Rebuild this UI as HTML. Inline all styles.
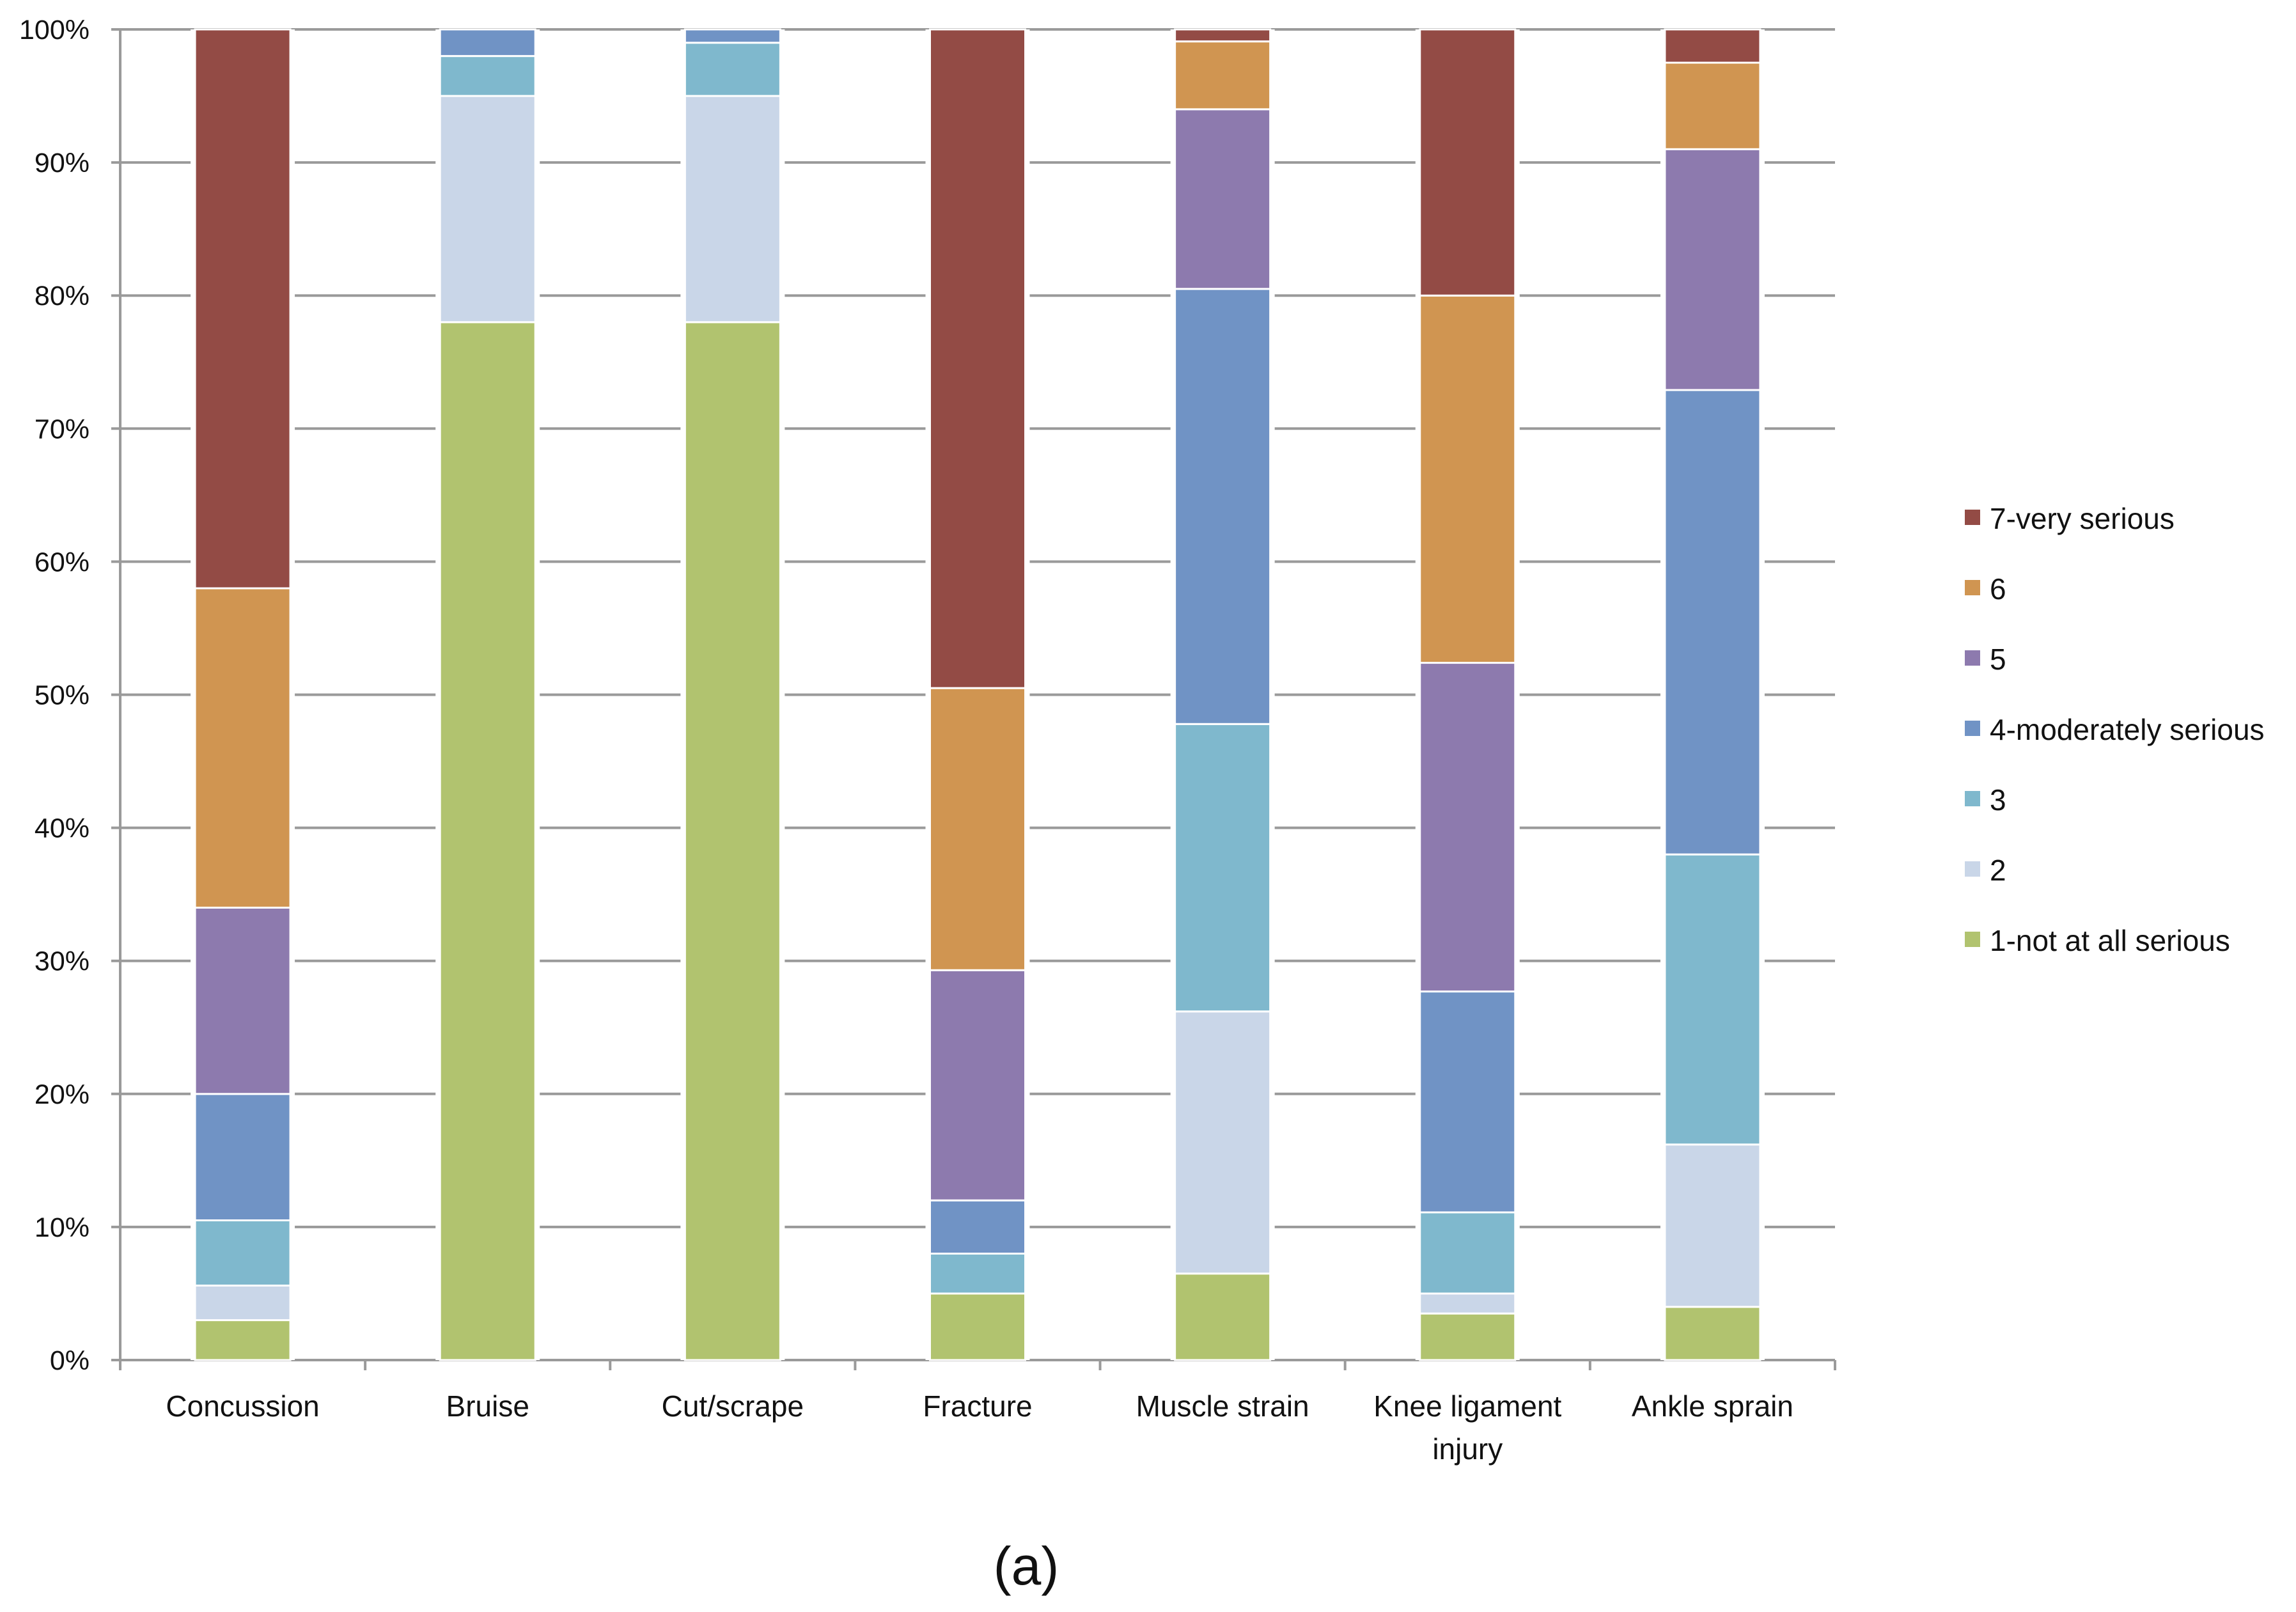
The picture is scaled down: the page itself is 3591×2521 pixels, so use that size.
<!DOCTYPE html>
<html><head><meta charset="utf-8"><style>
html,body{margin:0;padding:0;background:#fff;}
svg{display:block;font-family:"Liberation Sans","DejaVu Sans",sans-serif;}
</style></head><body>
<svg id="chart" width="3591" height="2521" viewBox="0 0 3591 2521" xmlns="http://www.w3.org/2000/svg"></svg>
<script>
const categories = [["Concussion"],["Bruise"],["Cut/scrape"],["Fracture"],["Muscle strain"],["Knee ligament","injury"],["Ankle sprain"]];
const seriesNames = ["1-not at all serious","2","3","4-moderately serious","5","6","7-very serious"];
const s1 = [3, 78, 78, 5, 6.5, 3.5, 4];
const s2 = [2.6, 17, 17, 0, 19.7, 1.5, 12.2];
const s3 = [4.9, 3, 4, 3, 21.6, 6.1, 21.8];
const s4 = [9.5, 2, 1, 4, 32.7, 16.6, 34.9];
const s5 = [14, 0, 0, 17.3, 13.5, 24.7, 18.1];
const s6 = [24, 0, 0, 21.2, 5.1, 27.6, 6.5];
const s7 = [42, 0, 0, 49.5, 0.9, 20, 2.5];
const yTicks = [0,10,20,30,40,50,60,70,80,90,100];
const series = [s1,s2,s3,s4,s5,s6,s7];
const colors = ["#b1c36f","#c9d6e8","#7fb8cd","#7093c5","#8d7aae","#d09551","#934b45"];

const svg = document.getElementById('chart');
const NS = "http://www.w3.org/2000/svg";
const X0=188, X1=2870, Y0=2127, Y100=46;
const catW=(X1-X0)/categories.length, barW=149;
function yScale(v){return Y0-(Y100-Y0)*-1*v/100;}
function y(v){return Y0-(Y0-Y100)*v/100;}
function xCenter(i){return X0+catW*(i+0.5);}
function mk(tag,attrs,parent){const e=document.createElementNS(NS,tag);for(const k in attrs)e.setAttribute(k,attrs[k]);(parent||svg).appendChild(e);return e;}

// gridlines + y labels
yTicks.forEach(t=>{
  const g=mk('line',{x1:X0-14,x2:X1,y1:y(t),y2:y(t),stroke:'#9a9a9a','stroke-width':4});
  
  
  const tx=mk('text',{x:140,y:y(t)+15,'text-anchor':'end','font-size':43,fill:'#111'});
  tx.textContent=t+'%';
  
  
});
// axes
const ya=mk('line',{x1:X0,x2:X0,y1:Y100,y2:Y0,stroke:'#9a9a9a','stroke-width':4});


const xa=mk('line',{x1:X0,x2:X1,y1:Y0,y2:Y0,stroke:'#9a9a9a','stroke-width':4});


for(let i=0;i<=categories.length;i++){
  const tk=mk('line',{x1:X0+catW*i,x2:X0+catW*i,y1:Y0,y2:Y0+16,stroke:'#9a9a9a','stroke-width':4});
  
  
}
// bars
categories.forEach((c,i)=>{
  const cx=xCenter(i);
  const sh=mk('rect',{x:cx-barW/2-7,y:Y100,width:barW+14,height:Y0-Y100,fill:'#fff'});
  
  
  let cum=0;
  series.forEach((s,k)=>{
    const v=s[i];
    if(v>0){
      const r=mk('rect',{x:cx-barW/2,y:y(cum+v),width:barW,height:y(cum)-y(cum+v),fill:colors[k],stroke:'#fff','stroke-width':3});
      
      
    }
    cum+=v;
  });
  c.forEach((line,j)=>{
    const t=mk('text',{x:cx,y:2215+j*67,'text-anchor':'middle','font-size':46,fill:'#111'});
    t.textContent=line;
    
    
  });
});
// legend
for(let k=seriesNames.length-1,row=0;k>=0;k--,row++){
  const ly=811+row*110;
  const sq=mk('rect',{x:3073,y:ly-14,width:24,height:24,fill:colors[k]});
  
  
  const t=mk('text',{x:3112,y:ly+16,'font-size':46,fill:'#111'});
  t.textContent=seriesNames[k];
  
  
}
const cap=mk('text',{x:1605,y:2478,'text-anchor':'middle','font-size':84,fill:'#111'});
cap.textContent='(a)';


</script>
</body></html>
